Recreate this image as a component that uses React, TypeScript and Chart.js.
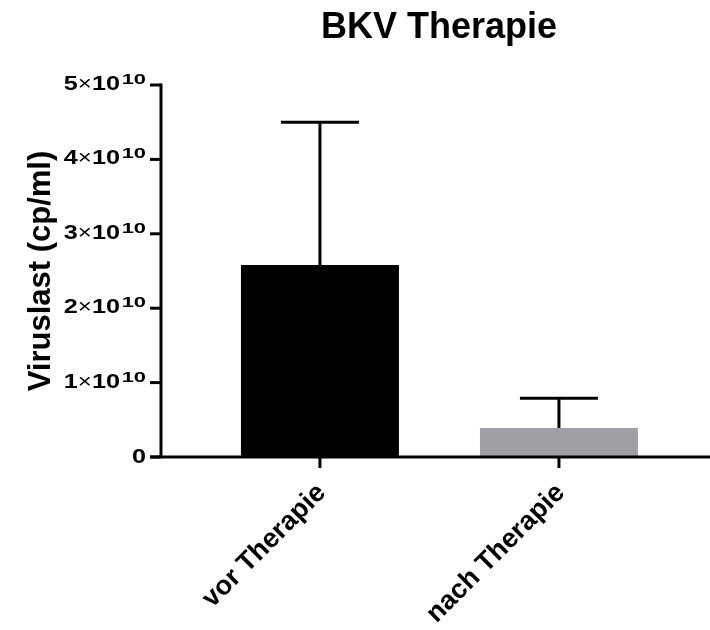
import React, { useEffect, useRef } from "react";
import { Chart, registerables } from "chart.js";

Chart.register(...registerables);

const chartTitle = "BKV Therapie";
const yAxisTitle = "Viruslast (cp/ml)";
const categories = ["vor Therapie", "nach Therapie"];
const categoryPositions = [1, 2];
const meanValues = [2.58e10, 0.39e10];
const errorValues = [1.92e10, 0.4e10];
const barColors = ["#000000", "#a09fa5"];
const yTicks = [0, 1e10, 2e10, 3e10, 4e10, 5e10];
const yExponent = 10;

const FONT = '"Liberation Sans", Arial, Helvetica, sans-serif';

export default function App() {
  const ref = useRef<HTMLCanvasElement | null>(null);

  useEffect(() => {
    const canvas = ref.current;
    if (!canvas) return;

    const customDraw = {
      id: "customDraw",
      afterDatasetsDraw(chart: any) {
        const ctx = chart.ctx;
        const meta = chart.getDatasetMeta(0);
        const y = chart.scales.y;
        ctx.save();
        ctx.strokeStyle = "#000";
        ctx.lineWidth = 3;
        ctx.lineCap = "butt";
        meta.data.forEach((bar: any, i: number) => {
          const top = y.getPixelForValue(meanValues[i] + errorValues[i]);
          const base = y.getPixelForValue(meanValues[i]);
          ctx.beginPath();
          ctx.moveTo(bar.x, base);
          ctx.lineTo(bar.x, top);
          ctx.stroke();
          ctx.beginPath();
          ctx.moveTo(bar.x - 39, top);
          ctx.lineTo(bar.x + 39, top);
          ctx.stroke();
        });
        ctx.restore();
      },
      afterDraw(chart: any) {
        const ctx = chart.ctx;
        const x = chart.scales.x;
        const y = chart.scales.y;
        const area = chart.chartArea;
        ctx.save();
        ctx.strokeStyle = "#000";
        ctx.fillStyle = "#000";
        ctx.lineWidth = 3;
        const y0 = y.getPixelForValue(0);
        const yTop = y.getPixelForValue(yTicks[yTicks.length - 1]);
        ctx.beginPath();
        ctx.moveTo(area.left, yTop - 1.5);
        ctx.lineTo(area.left, y0);
        ctx.stroke();
        ctx.beginPath();
        ctx.moveTo(area.left - 11, y0);
        ctx.lineTo(area.right, y0);
        ctx.stroke();
        const sx = 1.2;
        const supSx = 1.3;
        yTicks.forEach((v) => {
          const py = y.getPixelForValue(v);
          ctx.beginPath();
          ctx.moveTo(area.left - 11, py);
          ctx.lineTo(area.left, py);
          ctx.stroke();
          const rightX = area.left - 15;
          ctx.textBaseline = "alphabetic";
          ctx.textAlign = "left";
          const base = py + 5;
          ctx.save();
          ctx.translate(rightX, base);
          ctx.scale(sx, 1);
          if (v === 0) {
            ctx.font = `bold 21px ${FONT}`;
            const w = ctx.measureText("0").width;
            ctx.fillText("0", -w, 1);
          } else {
            const mant = String(Math.round(v / Math.pow(10, yExponent)));
            const sup = String(yExponent);
            ctx.font = `bold 14px ${FONT}`;
            const wSup = ctx.measureText(sup).width * supSx;
            ctx.font = `bold 21px ${FONT}`;
            const wTen = ctx.measureText("10").width;
            const wMant = ctx.measureText(mant).width;
            ctx.font = `20px ${FONT}`;
            const wTimes = ctx.measureText("×").width;
            let cx = -(wSup + 1.5 + wTen + wTimes + wMant);
            ctx.font = `bold 21px ${FONT}`;
            ctx.fillText(mant, cx, 0);
            cx += wMant;
            ctx.font = `20px ${FONT}`;
            ctx.fillText("×", cx, 0);
            cx += wTimes;
            ctx.font = `bold 21px ${FONT}`;
            ctx.fillText("10", cx, 0);
            cx += wTen + 1.5;
            ctx.save();
            ctx.translate(cx, -6);
            ctx.scale(supSx, 1);
            ctx.font = `bold 14px ${FONT}`;
            ctx.fillText(sup, 0, 0);
            ctx.restore();
          }
          ctx.restore();
        });
        categoryPositions.forEach((pos, i) => {
          const px = x.getPixelForValue(pos);
          ctx.beginPath();
          ctx.moveTo(px, y0);
          ctx.lineTo(px, y0 + 11);
          ctx.stroke();
          ctx.save();
          ctx.translate(px + 7, y0 + 37);
          ctx.rotate(-Math.PI / 4);
          ctx.font = `bold 27px ${FONT}`;
          ctx.textAlign = "right";
          ctx.textBaseline = "alphabetic";
          ctx.fillText(categories[i], 0, 0);
          ctx.restore();
        });
        ctx.save();
        ctx.translate(50, (area.top + y0) / 2);
        ctx.rotate(-Math.PI / 2);
        ctx.font = `bold 31px ${FONT}`;
        ctx.textAlign = "center";
        ctx.textBaseline = "alphabetic";
        ctx.fillText(yAxisTitle, 0, 0);
        ctx.restore();
        ctx.font = `bold 36px ${FONT}`;
        ctx.textAlign = "center";
        ctx.textBaseline = "alphabetic";
        ctx.fillText(chartTitle, 439, 38);
        ctx.restore();
      },
    };

    const chart = new Chart(canvas, {
      type: "bar",
      data: {
        labels: categories,
        datasets: [
          {
            data: categoryPositions.map((p, i) => ({ x: p, y: meanValues[i] })),
            backgroundColor: barColors,
            borderWidth: 0,
            categoryPercentage: 0.661,
            barPercentage: 1,
          },
        ],
      },
      options: {
        animation: false,
        responsive: false,
        layout: { padding: { left: 161, right: 0, top: 85, bottom: 173 } },
        plugins: {
          legend: { display: false },
          title: { display: false },
          tooltip: { enabled: false },
        },
        scales: {
          x: {
            type: "linear",
            display: false,
            offset: false,
            bounds: "data",
            grid: { offset: false },
            min: 0.335,
            max: 2.632,
            afterBuildTicks: (scale: any) => {
              scale.ticks = categoryPositions.map((v) => ({ value: v }));
            },
          },
          y: {
            type: "linear",
            display: false,
            min: 0,
            max: 5e10,
          },
        },
      },
      plugins: [customDraw],
    } as any);

    return () => chart.destroy();
  }, []);

  return (
    <div style={{ position: "absolute", left: 0, top: 0, width: 710, height: 630, background: "#fff" }}>
      <canvas ref={ref} width={710} height={630} style={{ display: "block" }} />
    </div>
  );
}
